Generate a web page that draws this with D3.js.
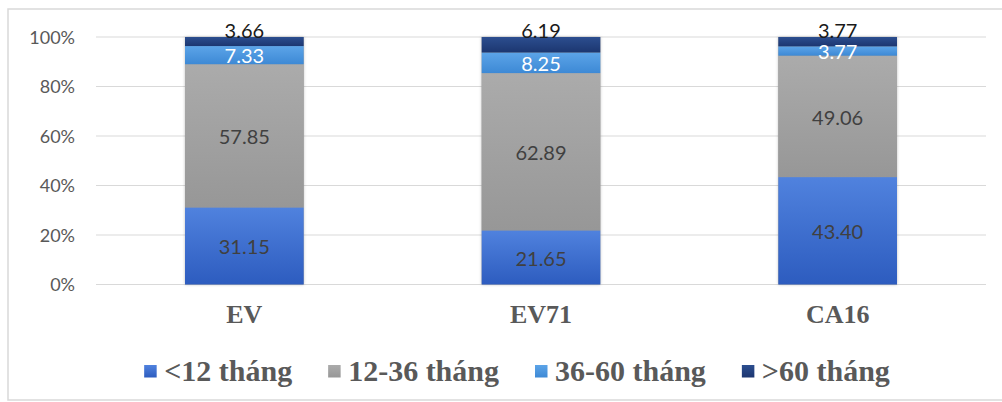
<!DOCTYPE html>
<html>
<head>
<meta charset="utf-8">
<script src="https://cdn.jsdelivr.net/npm/d3@7"></script>
<style>
  html, body { margin: 0; padding: 0; background: #fff; }
  svg { display: block; }
</style>
</head>
<body>
<svg id="chart" width="1002" height="402"></svg>
<script>
// ---- data ----
const categories = ["EV", "EV71", "CA16"];
const seriesNames = ["<12 tháng", "12-36 tháng", "36-60 tháng", ">60 tháng"];
const under12 = [31.15, 21.65, 43.40];
const m12to36 = [57.85, 62.89, 49.06];
const m36to60 = [7.33, 8.25, 3.77];
const over60 = [3.66, 6.19, 3.77];
const yTicks = [0, 20, 40, 60, 80, 100];

const seriesValues = [under12, m12to36, m36to60, over60];
const colors = [
  { top: "#5082de", bot: "#2d5cbf", label: "#404040" },
  { top: "#ababab", bot: "#979797", label: "#404040" },
  { top: "#5ca4e8", bot: "#3d89d5", label: "#ffffff" },
  { top: "#2c4e8f", bot: "#1c3670", label: "#1a1a1a" }
];

const svg = d3.select("#chart");
const defs = svg.append("defs");
colors.forEach((c, i) => {
  const g = defs.append("linearGradient").attr("id", "grad" + i)
    .attr("x1", 0).attr("y1", 0).attr("x2", 0).attr("y2", 1);
  g.append("stop").attr("offset", "0%").attr("stop-color", c.top);
  g.append("stop").attr("offset", "100%").attr("stop-color", c.bot);
});
const f = defs.append("filter").attr("id", "shadow")
  .attr("x", "-10%").attr("y", "-10%").attr("width", "120%").attr("height", "120%");
f.append("feDropShadow").attr("dx", 0).attr("dy", 0).attr("stdDeviation", 1.5)
  .attr("flood-color", "#000").attr("flood-opacity", 0.25);

// outer border
svg.append("rect").attr("x", 8).attr("y", 9).attr("width", 1030).attr("height", 391)
  .attr("fill", "none").attr("stroke", "#d9d9d9").attr("stroke-width", 1.5);

const x = d3.scaleBand().domain(categories).range([96, 986])
  .paddingInner(0.6).paddingOuter(0.3);
const y = d3.scaleLinear().domain([0, 100]).range([284.5, 37]);

// gridlines
svg.append("g").selectAll("line").data(yTicks).join("line")
  .attr("x1", 96).attr("x2", 986)
  .attr("y1", d => y(d)).attr("y2", d => y(d))
  .attr("stroke", "#d9d9d9").attr("stroke-width", 1);

// y axis
const yAxis = d3.axisLeft(y).tickValues(yTicks).tickFormat(d => d + "%").tickSize(0).tickPadding(0);
const ya = svg.append("g").attr("transform", "translate(75,0)").call(yAxis);
ya.select(".domain").remove();
ya.selectAll("text").attr("font-family", "Lato, 'Open Sans', sans-serif")
  .attr("font-size", 18).attr("fill", "#595959").attr("dy", "0.36em");

// 100% stack (values normalised per category, labels show raw values)
const rows = categories.map((c, i) => {
  const o = { cat: c };
  seriesNames.forEach((s, k) => o[s] = seriesValues[k][i]);
  return o;
});
const stacked = d3.stack().keys(seriesNames).offset(d3.stackOffsetExpand)(rows);

const barsG = svg.append("g");
barsG.selectAll("rect.sh").data(rows).join("rect").attr("class", "sh")
  .attr("x", d => x(d.cat)).attr("width", x.bandwidth())
  .attr("y", y(100)).attr("height", y(0) - y(100))
  .attr("fill", "#999").attr("filter", "url(#shadow)");

stacked.forEach((layer, k) => {
  barsG.append("g").selectAll("rect").data(layer).join("rect")
    .attr("x", d => x(d.data.cat))
    .attr("width", x.bandwidth())
    .attr("y", d => y(d[1] * 100))
    .attr("height", d => y(d[0] * 100) - y(d[1] * 100))
    .attr("fill", "url(#grad" + k + ")");
});

// labels
const labG = svg.append("g");
stacked.forEach((layer, k) => {
  labG.append("g").selectAll("text").data(layer).join("text")
    .attr("x", d => x(d.data.cat) + x.bandwidth() / 2)
    .attr("y", d => k === 3 ? y(100) - 6 : (y(d[0] * 100) + y(d[1] * 100)) / 2 + 1)
    .attr("dy", "0.36em")
    .attr("text-anchor", "middle")
    .attr("font-family", "Lato, 'Open Sans', sans-serif")
    .attr("font-size", 20)
    .attr("fill", colors[k].label)
    .text(d => d.data[seriesNames[k]].toFixed(2));
});

// category labels
svg.append("g").selectAll("text").data(categories).join("text")
  .attr("x", d => x(d) + x.bandwidth() / 2)
  .attr("y", 323)
  .attr("text-anchor", "middle")
  .attr("font-family", "'Liberation Serif', 'Times New Roman', serif")
  .attr("font-weight", "bold").attr("font-size", 26)
  .attr("fill", "#595959")
  .text(d => d);

// legend
const leg = svg.append("g");
const items = leg.selectAll("g").data(seriesNames).join("g");
items.append("rect").attr("width", 12.5).attr("height", 12.5).attr("y", -12.5)
  .attr("fill", (d, i) => `url(#grad${i})`);
items.append("text").attr("x", 20).attr("y", -6)
  .attr("font-family", "'Liberation Serif', 'Times New Roman', serif")
  .attr("font-weight", "bold").attr("font-size", 30)
  .attr("fill", "#595959").attr("dy", "0.3em")
  .text(d => d);
const gap = 36;
const widths = [];
items.each(function () {
  widths.push(20 + d3.select(this).select("text").node().getComputedTextLength());
});
const total = d3.sum(widths) + gap * (widths.length - 1);
let start = 517 - total / 2;
items.attr("transform", (d, i) => {
  const t = `translate(${start},377.5)`;
  start += widths[i] + gap;
  return t;
});
</script>
</body>
</html>
